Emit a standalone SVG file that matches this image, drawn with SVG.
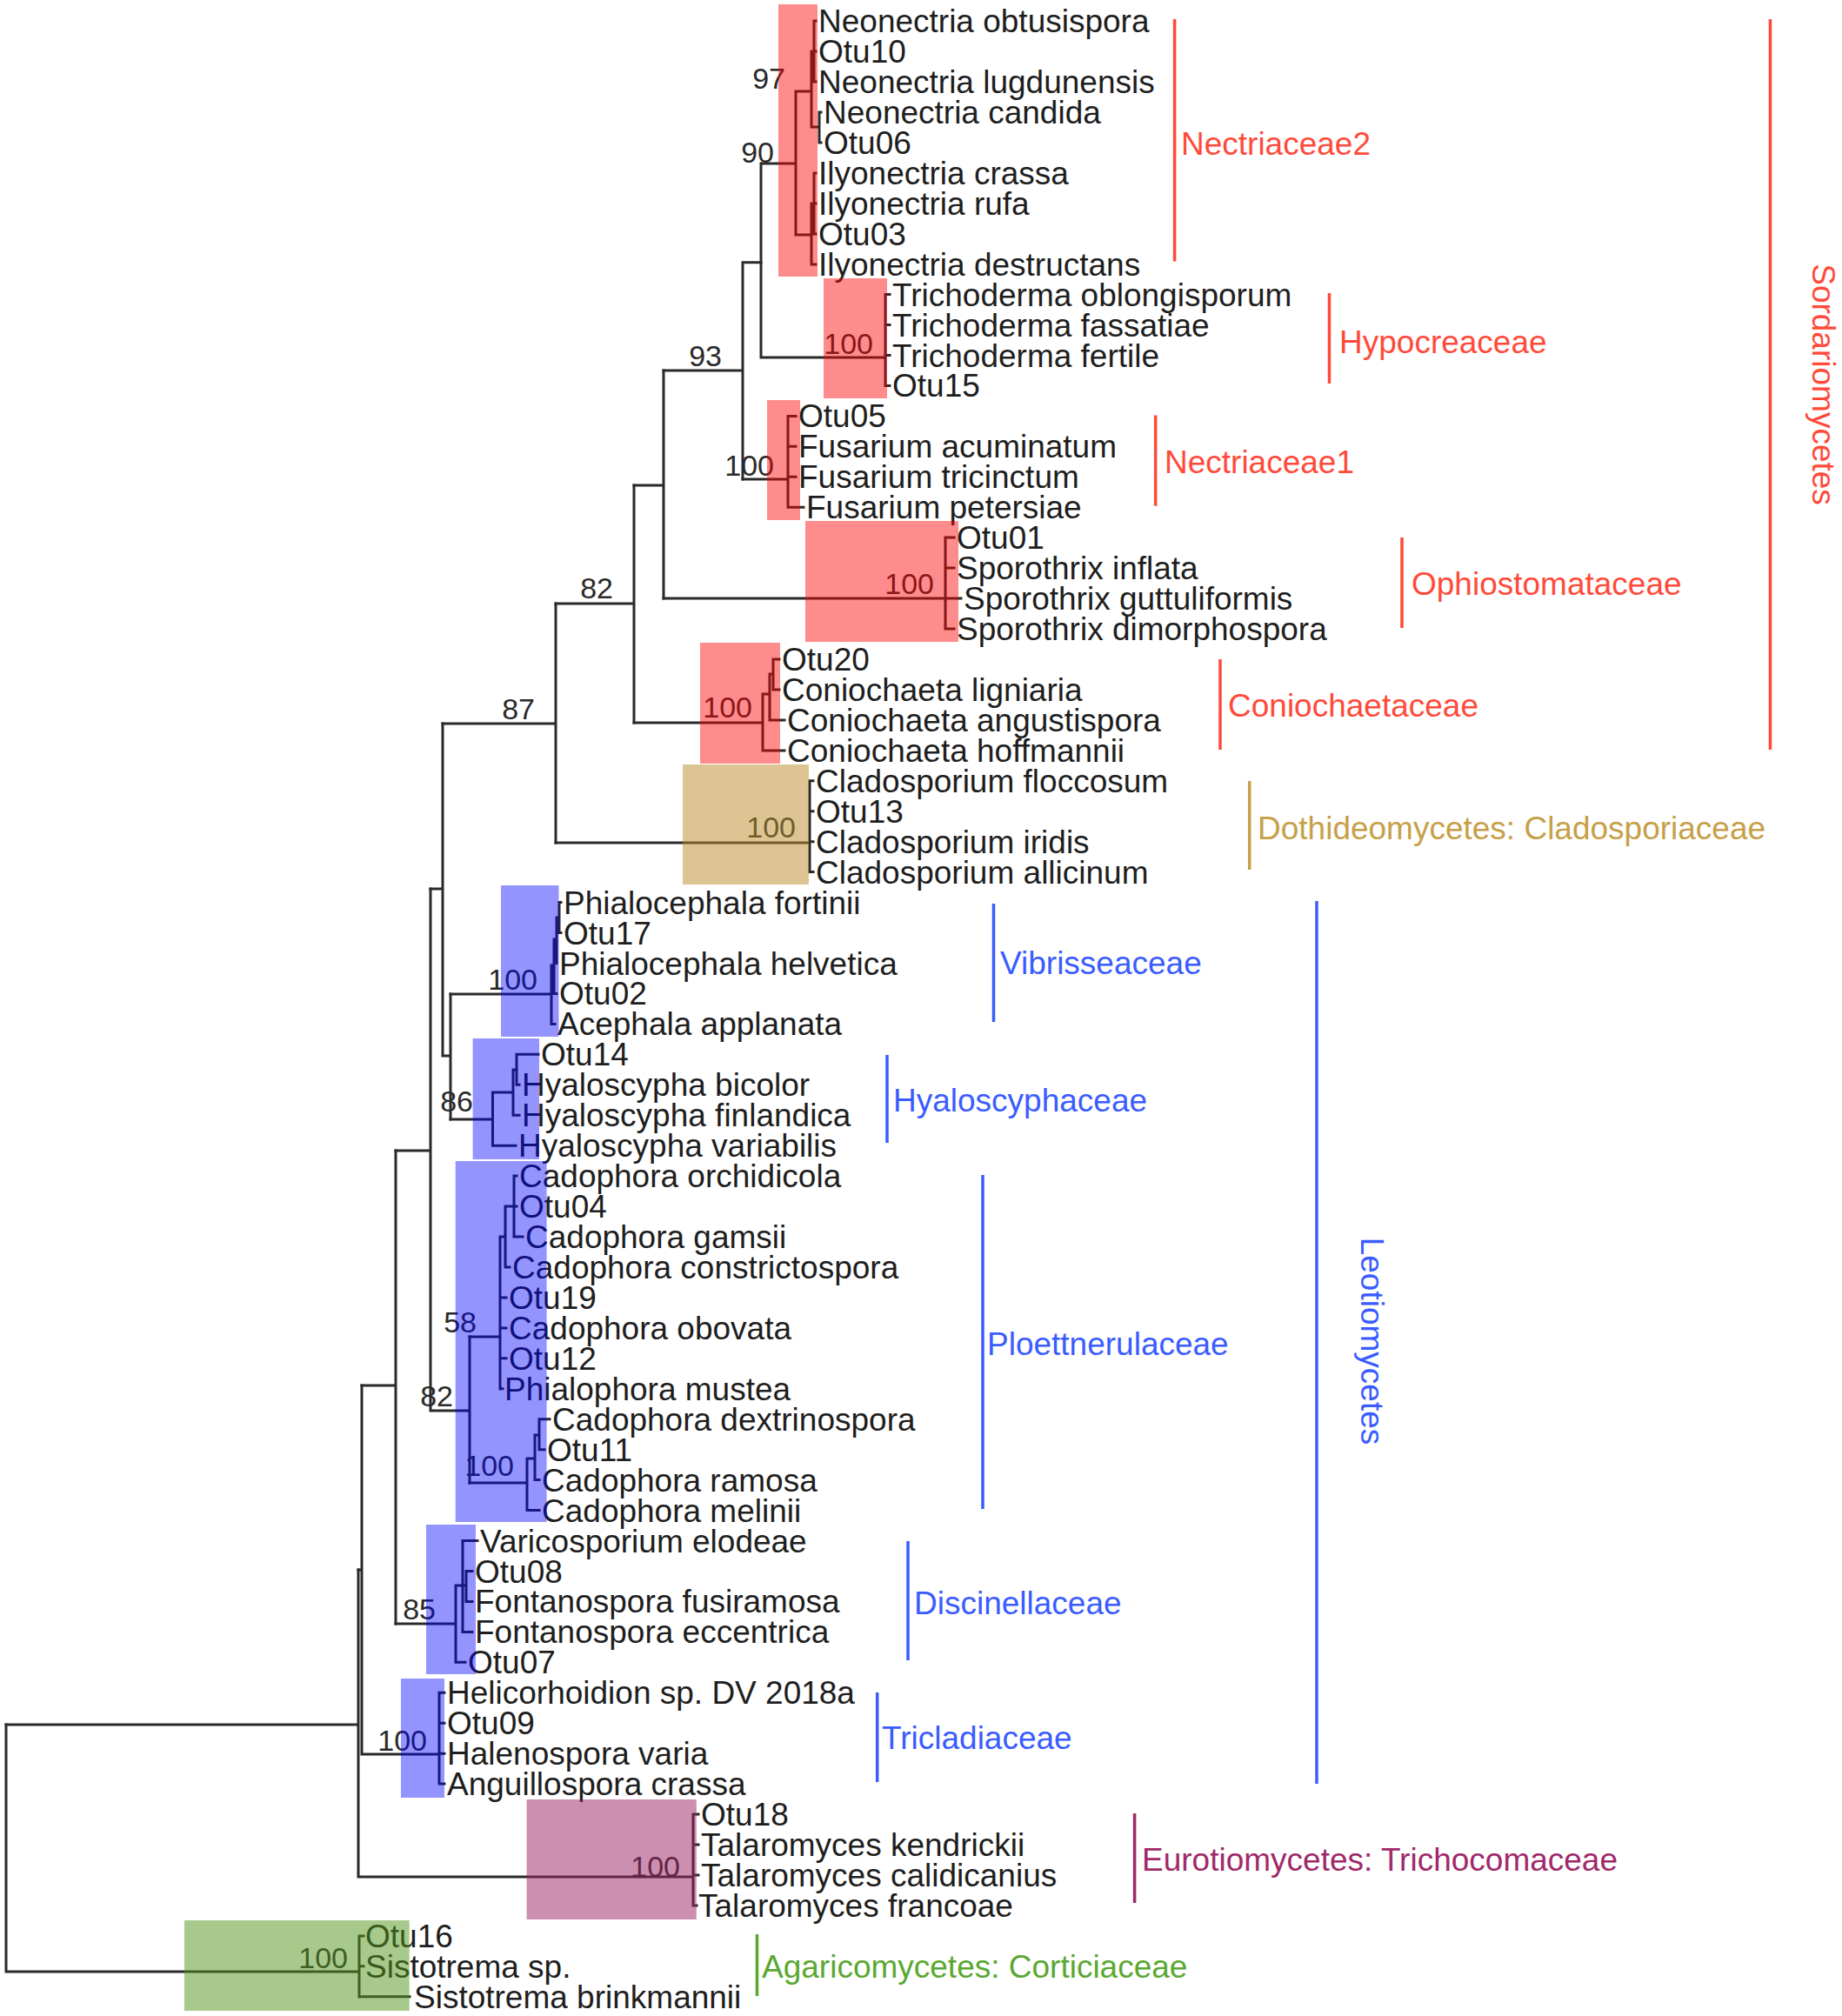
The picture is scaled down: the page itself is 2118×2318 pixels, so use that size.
<svg xmlns="http://www.w3.org/2000/svg" width="2118" height="2318" viewBox="0 0 2118 2318">
<style>
text{font-family:"Liberation Sans",Arial,Helvetica,sans-serif}
.br{fill:none;stroke:#2a2a2a;stroke-width:3;stroke-linecap:square}
.lf{font-size:37px;fill:#1e1e1e}
.bs{font-size:34px;fill:#2a2a2a;text-anchor:end}
.cl{font-size:37px}
.ored{fill:#ff0000;fill-opacity:0.45}
.oblu{fill:#0000ff;fill-opacity:0.42}
.otan{fill:#b98c28;fill-opacity:0.5}
.opur{fill:#991f61;fill-opacity:0.5}
.ogrn{fill:#519319;fill-opacity:0.5}
.bar{stroke-width:3.5;fill:none}
.cR{fill:#ff4a3a}.sR{stroke:#ff4a3a}
.cB{fill:#3a5cff}.sB{stroke:#3a5cff}
.cT{fill:#c6a048}.sT{stroke:#c6a048}
.cP{fill:#a0296a}.sP{stroke:#a0296a}
.cG{fill:#5aa832}.sG{stroke:#5aa832}
</style>
<rect width="2118" height="2318" fill="#ffffff"/>
<g id="connectors">
<path class="br" d="M876 188H915M915 105V270M915 105H933M933 59V146M933 59H936M936 24V94M936 24H938M936 59H938M936 94H938M933 146H942M942 129V164M942 129H944M942 164H944M915 270H933M933 234V304M933 234H936M936 199V269M936 199H938M936 234H938M936 269H938M933 304H938"/>
<path class="br" d="M875 188V411M875 411H1018M1018 338.5V443.4M1018 338.5H1023M1018 373.5H1023M1018 408.5H1023M1018 443.4H1023"/>
<path class="br" d="M854 301.7H875M854 301.7V551M763 426H854"/>
<path class="br" d="M854 551H906M906 478.4V583.2M906 478.4H915M906 513.3H915M906 548.3H915M906 583.2H924"/>
<path class="br" d="M763 426V688M729 558H763"/>
<path class="br" d="M763 688H1087M1087 618V723M1087 618H1097M1087 653H1097M1087 688H1105M1087 723H1097"/>
<path class="br" d="M729 558V831M639 694H729"/>
<path class="br" d="M729 831H877M877 798V863M877 798H885M885 775V828M885 775H889M889 758V793M889 758H896M889 793H896M885 828H902M877 863H902"/>
<path class="br" d="M639 694V969M509 832H639"/>
<path class="br" d="M639 969H931M931 897.8V1002.6M931 897.8H935M931 932.7H935M931 967.7H935M931 1002.6H935"/>
<path class="br" d="M509 832V1214M495 1022H509M509 1214H518M518 1143V1287"/>
<path class="br" d="M518 1143H634M634 1110V1177.4M634 1177.4H638M634 1110H637M637 1080V1142.4M637 1142.4H640M637 1080H640M640 1055V1107.5M640 1055H643M643 1037.6V1072.5M643 1037.6H645M643 1072.5H645"/>
<path class="br" d="M518 1287H566.5M566.5 1256V1317.2M566.5 1317.2H593M566.5 1256H590M590 1230V1282.2M590 1282.2H597M590 1230H594M594 1212.3V1247.3M594 1212.3H619M594 1247.3H597"/>
<path class="br" d="M495 1022V1622M455 1323H495M495 1622H540M540 1537V1705"/>
<path class="br" d="M540 1537H575M575 1422V1597M575 1491.9H582M575 1526.9H582M575 1561.8H582M575 1596.8H578M575 1422H581M581 1387V1457M581 1457H586M581 1387H591M591 1352.1V1422M591 1352.1H594M591 1387.1H594M591 1422H601"/>
<path class="br" d="M540 1705H606M606 1677V1736.6M606 1736.6H620M606 1677H615M615 1650V1701.6M615 1701.6H620M615 1650H620M620 1631.7V1666.7M620 1631.7H632M620 1666.7H626"/>
<path class="br" d="M455 1323V1867M416 1593H455"/>
<path class="br" d="M455 1867H524M524 1823V1911.3M524 1911.3H535M524 1823H532M532 1771.5V1876.4M532 1771.5H549M532 1876.4H543M532 1823H536M536 1806.5V1841.4M536 1806.5H543M536 1841.4H543"/>
<path class="br" d="M416 1593V2017M412 1805H416M416 2017H505M505 1946.3V2051.1M505 1946.3H511M505 1981.2H511M505 2016.2H511M505 2051.1H511"/>
<path class="br" d="M412 1805V2158M7 1983H412M412 2158H797M797 2086V2191M797 2086H803M797 2121H803M797 2156H803M797 2191H801"/>
<path class="br" d="M7 1983V2267M7 2267H413M413 2226V2296M413 2225.9H418M413 2260.8H418M413 2295.8H471"/>
</g>
<g id="support-values" class="bs">
<text x="903" y="102">97</text>
<text x="890" y="187">90</text>
<text x="830" y="421">93</text>
<text x="1004" y="407">100</text>
<text x="890" y="547">100</text>
<text x="1074" y="683">100</text>
<text x="705" y="688">82</text>
<text x="865" y="825">100</text>
<text x="615" y="827">87</text>
<text x="915" y="963">100</text>
<text x="618" y="1138">100</text>
<text x="544" y="1278">86</text>
<text x="548" y="1532">58</text>
<text x="521" y="1617">82</text>
<text x="591" y="1697">100</text>
<text x="501" y="1862">85</text>
<text x="491" y="2013">100</text>
<text x="782" y="2158">100</text>
<text x="400" y="2263">100</text>
</g>
<g id="clade-nectriaceae2">
<g class="lf">
<text x="941" y="37">Neonectria obtusispora</text>
<text x="941" y="72">Otu10</text>
<text x="941" y="107">Neonectria lugdunensis</text>
<text x="947" y="142">Neonectria candida</text>
<text x="947" y="177">Otu06</text>
<text x="941" y="212">Ilyonectria crassa</text>
<text x="941" y="247">Ilyonectria rufa</text>
<text x="941" y="282">Otu03</text>
<text x="941" y="317">Ilyonectria destructans</text>
</g>
<rect class="ored" x="895" y="5" width="45" height="313"/>
<line class="bar sR" x1="1350.6" y1="22" x2="1350.6" y2="300.5"/>
<text class="cl cR" x="1358" y="178">Nectriaceae2</text>
</g>
<g id="clade-hypocreaceae">
<g class="lf">
<text x="1026" y="351.5">Trichoderma oblongisporum</text>
<text x="1026" y="386.5">Trichoderma fassatiae</text>
<text x="1026" y="421.5">Trichoderma fertile</text>
<text x="1026" y="456.4">Otu15</text>
</g>
<rect class="ored" x="947" y="320" width="73" height="138"/>
<line class="bar sR" x1="1528.5" y1="337" x2="1528.5" y2="441"/>
<text class="cl cR" x="1540" y="406">Hypocreaceae</text>
</g>
<g id="clade-nectriaceae1">
<g class="lf">
<text x="918" y="491.4">Otu05</text>
<text x="918" y="526.3">Fusarium acuminatum</text>
<text x="918" y="561.3">Fusarium tricinctum</text>
<text x="927" y="596.2">Fusarium petersiae</text>
</g>
<rect class="ored" x="882" y="460" width="38" height="138"/>
<line class="bar sR" x1="1328.7" y1="477.5" x2="1328.7" y2="581.7"/>
<text class="cl cR" x="1339" y="544">Nectriaceae1</text>
</g>
<g id="clade-ophiostomataceae">
<g class="lf">
<text x="1100" y="631.2">Otu01</text>
<text x="1100" y="666.1">Sporothrix inflata</text>
<text x="1108" y="701.1">Sporothrix guttuliformis</text>
<text x="1100" y="736">Sporothrix dimorphospora</text>
</g>
<rect class="ored" x="926" y="599" width="176" height="139"/>
<line class="bar sR" x1="1612" y1="618" x2="1612" y2="722"/>
<text class="cl cR" x="1623" y="684">Ophiostomataceae</text>
</g>
<g id="clade-coniochaetaceae">
<g class="lf">
<text x="899" y="771">Otu20</text>
<text x="899" y="805.9">Coniochaeta ligniaria</text>
<text x="905" y="840.9">Coniochaeta angustispora</text>
<text x="905" y="875.8">Coniochaeta hoffmannii</text>
</g>
<rect class="ored" x="805" y="739" width="92" height="139"/>
<line class="bar sR" x1="1403" y1="758" x2="1403" y2="862"/>
<text class="cl cR" x="1412" y="824">Coniochaetaceae</text>
</g>
<g id="clade-cladosporiaceae">
<g class="lf">
<text x="938" y="910.8">Cladosporium floccosum</text>
<text x="938" y="945.7">Otu13</text>
<text x="938" y="980.7">Cladosporium iridis</text>
<text x="938" y="1015.6">Cladosporium allicinum</text>
</g>
<rect class="otan" x="785" y="879" width="145" height="138"/>
<line class="bar sT" x1="1436.7" y1="898" x2="1436.7" y2="1000"/>
<text class="cl cT" x="1446" y="964.5">Dothideomycetes: Cladosporiaceae</text>
</g>
<g id="clade-vibrisseaceae">
<g class="lf">
<text x="648" y="1050.6">Phialocephala fortinii</text>
<text x="648" y="1085.5">Otu17</text>
<text x="643" y="1120.5">Phialocephala helvetica</text>
<text x="643" y="1155.4">Otu02</text>
<text x="641" y="1190.4">Acephala applanata</text>
</g>
<rect class="oblu" x="576" y="1018" width="66.5" height="174"/>
<line class="bar sB" x1="1142.5" y1="1039" x2="1142.5" y2="1175"/>
<text class="cl cB" x="1150" y="1120">Vibrisseaceae</text>
</g>
<g id="clade-hyaloscyphaceae">
<g class="lf">
<text x="622" y="1225.3">Otu14</text>
<text x="600" y="1260.3">Hyaloscypha bicolor</text>
<text x="600" y="1295.2">Hyaloscypha finlandica</text>
<text x="596" y="1330.2">Hyaloscypha variabilis</text>
</g>
<rect class="oblu" x="543.6" y="1194" width="76.4" height="139"/>
<line class="bar sB" x1="1020" y1="1213" x2="1020" y2="1314"/>
<text class="cl cB" x="1027" y="1278">Hyaloscyphaceae</text>
</g>
<g id="clade-ploettnerulaceae">
<g class="lf">
<text x="597" y="1365.1">Cadophora orchidicola</text>
<text x="597" y="1400.1">Otu04</text>
<text x="604" y="1435">Cadophora gamsii</text>
<text x="589" y="1470">Cadophora constrictospora</text>
<text x="585" y="1504.9">Otu19</text>
<text x="585" y="1539.9">Cadophora obovata</text>
<text x="585" y="1574.8">Otu12</text>
<text x="580" y="1609.8">Phialophora mustea</text>
<text x="635" y="1644.7">Cadophora dextrinospora</text>
<text x="629" y="1679.7">Otu11</text>
<text x="623" y="1714.6">Cadophora ramosa</text>
<text x="623" y="1749.6">Cadophora melinii</text>
</g>
<rect class="oblu" x="523.7" y="1335" width="104.9" height="415"/>
<line class="bar sB" x1="1130" y1="1351" x2="1130" y2="1735"/>
<text class="cl cB" x="1135" y="1558">Ploettnerulaceae</text>
</g>
<g id="clade-discinellaceae">
<g class="lf">
<text x="552" y="1784.5">Varicosporium elodeae</text>
<text x="546" y="1819.5">Otu08</text>
<text x="546" y="1854.4">Fontanospora fusiramosa</text>
<text x="546" y="1889.4">Fontanospora eccentrica</text>
<text x="538" y="1924.3">Otu07</text>
</g>
<rect class="oblu" x="490" y="1753" width="57" height="172"/>
<line class="bar sB" x1="1044" y1="1772" x2="1044" y2="1909"/>
<text class="cl cB" x="1051" y="1856">Discinellaceae</text>
</g>
<g id="clade-tricladiaceae">
<g class="lf">
<text x="514" y="1959.3">Helicorhoidion sp. DV 2018a</text>
<text x="514" y="1994.2">Otu09</text>
<text x="514" y="2029.2">Halenospora varia</text>
<text x="514" y="2064.1">Anguillospora crassa</text>
</g>
<rect class="oblu" x="461" y="1930" width="50" height="137"/>
<line class="bar sB" x1="1008.7" y1="1946" x2="1008.7" y2="2049"/>
<text class="cl cB" x="1014" y="2011">Tricladiaceae</text>
</g>
<g id="clade-trichocomaceae">
<g class="lf">
<text x="806" y="2099">Otu18</text>
<text x="806" y="2134">Talaromyces kendrickii</text>
<text x="806" y="2169">Talaromyces calidicanius</text>
<text x="803" y="2203.9">Talaromyces francoae</text>
</g>
<rect class="opur" x="605.6" y="2069" width="195.2" height="138"/>
<line class="bar sP" x1="1304.6" y1="2085" x2="1304.6" y2="2188"/>
<text class="cl cP" x="1313" y="2151">Eurotiomycetes: Trichocomaceae</text>
</g>
<g id="clade-corticiaceae">
<g class="lf">
<text x="420" y="2238.9">Otu16</text>
<text x="420" y="2273.8">Sistotrema sp.</text>
<text x="476" y="2308.8">Sistotrema brinkmannii</text>
</g>
<rect class="ogrn" x="212" y="2208" width="258.7" height="104"/>
<line class="bar sG" x1="870.5" y1="2224" x2="870.5" y2="2295"/>
<text class="cl cG" x="876" y="2274">Agaricomycetes: Corticiaceae</text>
</g>
<g id="class-sordariomycetes">
<line class="bar sR" x1="2035.5" y1="22" x2="2035.5" y2="862"/>
<text class="cl cR" text-anchor="middle" transform="translate(2084 442) rotate(90)">Sordariomycetes</text>
</g>
<g id="class-leotiomycetes">
<line class="bar sB" x1="1514" y1="1036" x2="1514" y2="2051"/>
<text class="cl cB" text-anchor="middle" transform="translate(1565 1542) rotate(90)">Leotiomycetes</text>
</g>
</svg>
